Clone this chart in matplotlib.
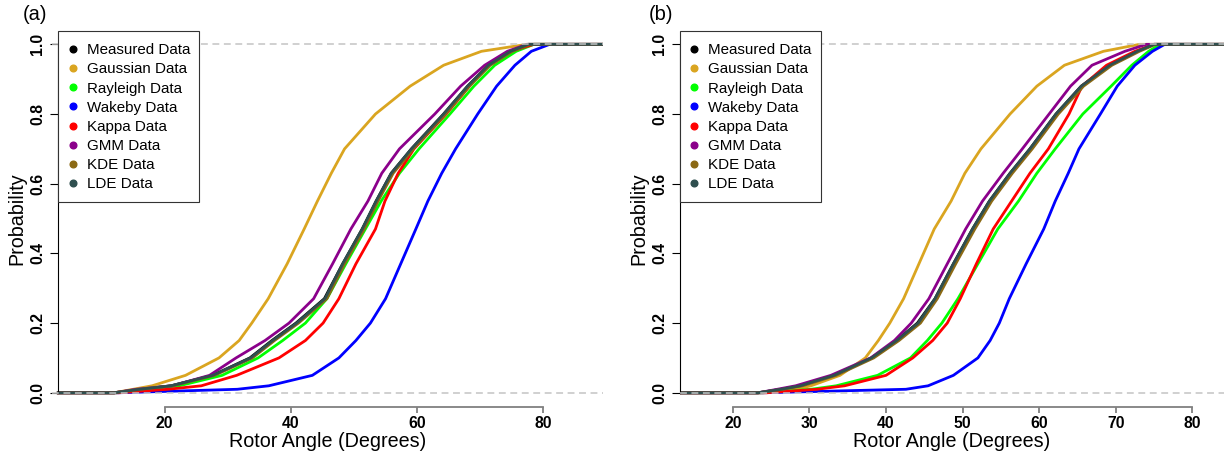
import matplotlib
matplotlib.use("Agg")
import matplotlib.pyplot as plt
from matplotlib.lines import Line2D
from matplotlib.patches import Rectangle

plt.rcParams['font.family'] = ['Liberation Sans', 'DejaVu Sans']

# ---------------- data ----------------
SERIES = ["Measured Data", "Gaussian Data", "Rayleigh Data", "Wakeby Data",
          "Kappa Data", "GMM Data", "KDE Data", "LDE Data"]
COLORS = ["#000000", "#DAA520", "#00FF00", "#0000FF",
          "#FF0000", "#8B008B", "#8B6914", "#2F4F4F"]

# cumulative probability levels at which the rotor angles were read
PROB = [0.0, 0.01, 0.02, 0.05, 0.10, 0.15, 0.20, 0.27, 0.37, 0.47,
        0.55, 0.63, 0.70, 0.80, 0.88, 0.94, 0.98, 1.0]

# panel (a): rotor angle (degrees) at each probability level
A_MEASURED = [12.0, 16.0, 21.0, 27.6, 33.5, 37.0, 40.8, 45.3, 48.2, 51.3, 53.5, 55.9, 59.1, 64.2, 68.0, 71.3, 74.8, 77.6]
A_GAUSSIAN = [12.0, 15.0, 18.0, 23.3, 28.6, 31.8, 33.8, 36.4, 39.4, 42.1, 44.2, 46.4, 48.5, 53.4, 58.9, 64.2, 70.2, 77.4]
A_RAYLEIGH = [12.3, 17.0, 22.3, 29.1, 34.8, 38.7, 42.3, 45.7, 48.7, 51.8, 54.3, 57.2, 60.3, 65.2, 69.0, 72.3, 75.7, 78.5]
A_WAKEBY = [12.7, 31.5, 36.5, 43.4, 47.6, 50.3, 52.6, 55.0, 57.4, 59.8, 61.7, 63.9, 66.1, 69.6, 72.6, 75.5, 78.1, 81.0]
A_KAPPA = [12.7, 20.5, 25.8, 31.4, 38.1, 42.3, 45.1, 47.6, 50.3, 53.4, 54.9, 57.0, 59.5, 64.6, 68.3, 71.2, 74.8, 78.5]
A_GMM = [12.0, 15.5, 21.2, 27.1, 31.3, 35.9, 39.7, 43.6, 46.6, 49.5, 52.2, 54.4, 57.2, 62.8, 66.9, 70.7, 74.3, 77.4]
A_KDE = [12.0, 16.3, 21.3, 27.9, 33.9, 37.4, 41.2, 45.7, 48.5, 51.6, 53.8, 56.2, 59.4, 64.5, 68.3, 71.6, 75.1, 77.8]
A_LDE = [12.0, 16.0, 21.0, 27.6, 33.6, 37.1, 40.9, 45.4, 48.2, 51.3, 53.5, 55.9, 59.1, 64.2, 68.0, 71.3, 74.8, 77.6]

# panel (b)
B_MEASURED = [23.3, 26.3, 28.8, 33.2, 38.1, 41.4, 44.1, 46.4, 48.8, 51.3, 53.5, 56.2, 58.8, 62.2, 65.5, 69.2, 72.8, 75.0]
B_GAUSSIAN = [23.5, 28.2, 30.2, 34.0, 37.3, 39.0, 40.5, 42.3, 44.3, 46.3, 48.5, 50.3, 52.4, 56.2, 59.7, 63.3, 68.4, 73.1]
B_RAYLEIGH = [23.9, 30.2, 33.5, 38.9, 43.2, 45.4, 47.3, 49.4, 52.0, 54.6, 57.3, 59.7, 62.1, 65.7, 69.4, 72.1, 74.3, 75.8]
B_WAKEBY = [24.0, 42.6, 45.5, 48.8, 52.0, 53.6, 54.8, 56.1, 58.3, 60.6, 62.1, 63.8, 65.2, 68.0, 70.2, 72.5, 74.8, 76.4]
B_KAPPA = [24.4, 31.0, 34.6, 40.0, 43.5, 46.1, 48.0, 49.7, 51.8, 54.0, 56.4, 58.8, 61.2, 63.9, 65.6, 68.8, 72.5, 75.0]
B_GMM = [23.3, 25.8, 28.2, 32.8, 38.0, 41.1, 43.3, 45.6, 48.0, 50.4, 52.6, 55.3, 57.8, 61.3, 64.1, 66.9, 71.2, 74.0]
B_KDE = [23.3, 26.6, 29.1, 33.5, 38.4, 41.7, 44.5, 46.7, 49.1, 51.6, 53.8, 56.5, 59.1, 62.5, 65.8, 69.5, 73.1, 75.2]
B_LDE = [23.3, 26.3, 28.8, 33.2, 38.1, 41.4, 44.2, 46.4, 48.8, 51.3, 53.5, 56.2, 58.8, 62.2, 65.5, 69.2, 72.8, 75.0]

XTICKS_A = [20, 40, 60, 80]
XTICKS_B = [20, 30, 40, 50, 60, 70, 80]
YTICKS = [0.0, 0.2, 0.4, 0.6, 0.8, 1.0]
YTICKLABELS = ["0.0", "0.2", "0.4", "0.6", "0.8", "1.0"]

PANEL_A = [A_MEASURED, A_GAUSSIAN, A_RAYLEIGH, A_WAKEBY, A_KAPPA, A_GMM, A_KDE, A_LDE]
PANEL_B = [B_MEASURED, B_GAUSSIAN, B_RAYLEIGH, B_WAKEBY, B_KAPPA, B_GMM, B_KDE, B_LDE]

# ---------------- figure ----------------
W, H = 1225, 455
fig = plt.figure(figsize=(W / 100, H / 100), dpi=100)


def panel(rect_px, xlim, xstart, data, xticks, tag, tag_x):
    l, r, b, t = rect_px
    ax = fig.add_axes([l / W, 1 - b / H, (r - l) / W, (b - t) / H])
    ax.set_xlim(*xlim)
    ax.set_ylim(-0.04, 1.04)
    for vals, col in zip(data, COLORS):
        xs = [xstart] + list(vals) + [xlim[1]]
        ps = [0.0] + list(PROB) + [1.0]
        ax.plot(xs, ps, color=col, lw=2.0, solid_joinstyle='round', zorder=2)
    for yv in (0.0, 1.0):
        ax.axhline(yv, color="#C4C4C4", lw=1.1, ls=(0, (4.5, 3)), zorder=3)
    for s in ("top", "right"):
        ax.spines[s].set_visible(False)
    ax.spines["left"].set_position(("data", xstart))
    ax.spines["left"].set_bounds(0, 1)
    ax.spines["left"].set_linewidth(0.8)
    ax.spines["bottom"].set_bounds(xticks[0], xticks[-1])
    ax.spines["bottom"].set_color("#808080")
    ax.spines["bottom"].set_linewidth(1.3)
    ax.set_xticks(xticks)
    ax.set_xticklabels([str(v) for v in xticks], fontweight="bold", fontsize=11.3)
    ax.set_yticks(YTICKS)
    ax.set_yticklabels(YTICKLABELS, fontweight="bold", fontsize=11.3,
                       rotation=90, va="center")
    ax.tick_params(axis="x", length=4.2, width=1.3, color="#808080", pad=2.4)
    ax.tick_params(axis="y", length=5.5, width=0.8, color="black", pad=3.8)
    ax.set_xlabel("Rotor Angle (Degrees)", fontsize=14.2, labelpad=1)
    ax.set_ylabel("Probability", fontsize=14.2, labelpad=3)

    # legend (markers only) with a separately drawn square frame
    spine_px = l + (xstart - xlim[0]) / (xlim[1] - xlim[0]) * (r - l)
    x0 = (spine_px - l) / (r - l)
    frame_top, frame_bot, frame_w = 30.7, 202.0, 140.8
    rect = Rectangle((spine_px / W, 1 - frame_bot / H), frame_w / W,
                     (frame_bot - frame_top) / H, transform=fig.transFigure,
                     facecolor="white", edgecolor="#333333", lw=0.8,
                     zorder=5, clip_on=False)
    ax.add_patch(rect)
    handles = [Line2D([], [], ls="", marker="o", markersize=4.8,
                      markerfacecolor=c, markeredgecolor=c) for c in COLORS]
    leg = ax.legend(handles, SERIES, loc="upper left", bbox_to_anchor=(x0, 1.0),
                    borderaxespad=0, frameon=False, fontsize=10.9,
                    labelspacing=0.34, borderpad=0.85, handlelength=0.2,
                    handletextpad=0.83)
    leg.set_zorder(6)
    fig.text(tag_x / W, 1 - 14 / H, tag, fontsize=14.5, ha="left", va="center")
    return ax


# panel (a): axes region in pixels (left, right, bottom, top)
panel((51.7, 602.7, 406.7, 30.4), (2.09, 89.41), 3.14, PANEL_A, XTICKS_A, "(a)", 23)
# panel (b)
panel((680.0, 1224.0, 406.7, 30.4), (13.1, 84.14), 13.1, PANEL_B, XTICKS_B, "(b)", 649)

fig.savefig("out.png", dpi=100)
